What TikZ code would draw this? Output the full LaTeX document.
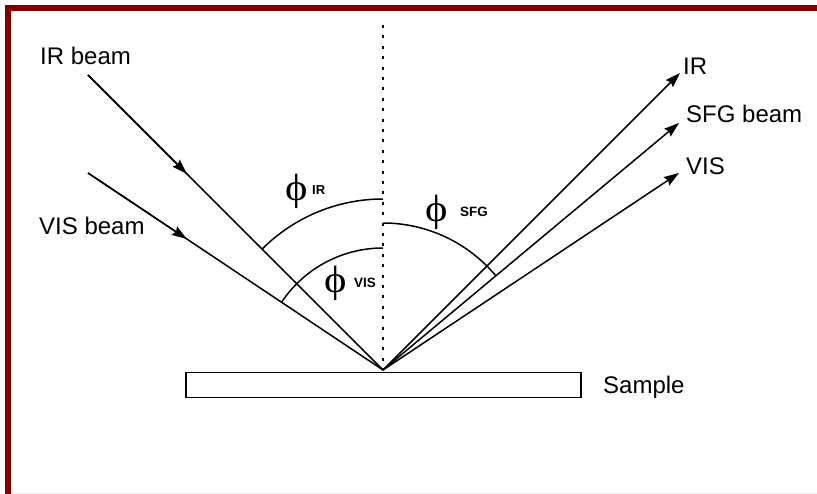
\documentclass[tikz,border=0pt]{standalone}
\usepackage{fontspec}
\usepackage{graphicx}
\setmainfont{Liberation Sans}
\newfontfamily\phifont{Liberation Serif}
\usetikzlibrary{arrows.meta,calc}
\definecolor{frame}{RGB}{128,0,0}
\definecolor{faint}{RGB}{238,228,234}
\newcommand{\myphi}{\scalebox{1.12}[1]{ϕ}}
\tikzset{
  beam/.style={line width=1.5pt},
  tipped/.style={beam,-{Stealth[length=15pt,width=10pt,inset=2pt]}},
  lbl/.style={anchor=base west,inner sep=0pt,font=\fontsize{24}{28}\selectfont},
  phi/.style={inner sep=0pt,font=\phifont\fontsize{38}{42}\selectfont},
  sub/.style={anchor=base west,inner sep=0pt,font=\bfseries\fontsize{#1}{#1}\selectfont},
  anglearc/.style={line width=1.5pt},
}
\begin{document}
\begin{tikzpicture}[x=1pt,y=-1pt]
\useasboundingbox (0,0) rectangle (817,494);
\fill[white] (0,0) rectangle (817,494);
% frame
\fill[frame] (5,5) rectangle (817,11);
\fill[frame] (5,5) rectangle (11,494);
\draw[faint,line width=1pt] (11,493) -- (817,493);
% key points
\coordinate (apex) at (383,370);
\coordinate (top) at (383,25);
\coordinate (irin) at (88,75);
\coordinate (visin) at (88,173);
\coordinate (irout) at (680,73);
\coordinate (sfgout) at (679,123);
\coordinate (visout) at (679,173);
% sample
\node[draw,line width=1.5pt,minimum width=395pt,minimum height=25pt,inner sep=0pt,anchor=north west] (sample) at (185,372) {};
\node[lbl] (samplelbl) at (603,394) {Sample};
% normal
\draw[line width=2pt,dash pattern=on 3pt off 7.4pt] (top) -- (apex);
% incoming beams
\draw[beam] (irin) -- (apex);
\draw[tipped] (irin) -- ($(irin)!0.335!(apex)$);
\draw[beam] (visin) -- (apex);
\draw[tipped] (visin) -- ($(visin)!0.335!(apex)$);
% outgoing beams
\draw[tipped] (apex) -- (irout);
\draw[tipped] (apex) -- (sfgout);
\draw[tipped] (apex) -- (visout);
% arcs
\draw[anglearc] (apex) ++(0,-171) arc[start angle=270,end angle=225,radius=171];
\draw[anglearc] (apex) ++(0,-122) arc[start angle=270,end angle=213.7,radius=122];
\draw[anglearc] (apex) ++(0,-147) arc[start angle=270,end angle=320.2,radius=147];
% labels
\node[lbl] (irbeam) at (40,65) {IR beam};
\node[lbl] (visbeam) at (39,235) {VIS beam};
\node[lbl] (irlbl) at (683,75) {IR};
\node[lbl] (sfglbl) at (686,123) {SFG beam};
\node[lbl] (vislbl) at (686,175) {VIS};
% angle labels
\node[phi] (phiir) at (296.5,191) {\myphi};
\node[sub=13] (subir) at (312,195) {IR};
\node[phi] (phivis) at (335.5,283) {\myphi};
\node[sub=13.5] (subvis) at (354,288) {VIS};
\node[phi] (phisfg) at (437,212) {\myphi};
\node[sub=13.5] (subsfg) at (460,217) {SFG};
\end{tikzpicture}
\end{document}
